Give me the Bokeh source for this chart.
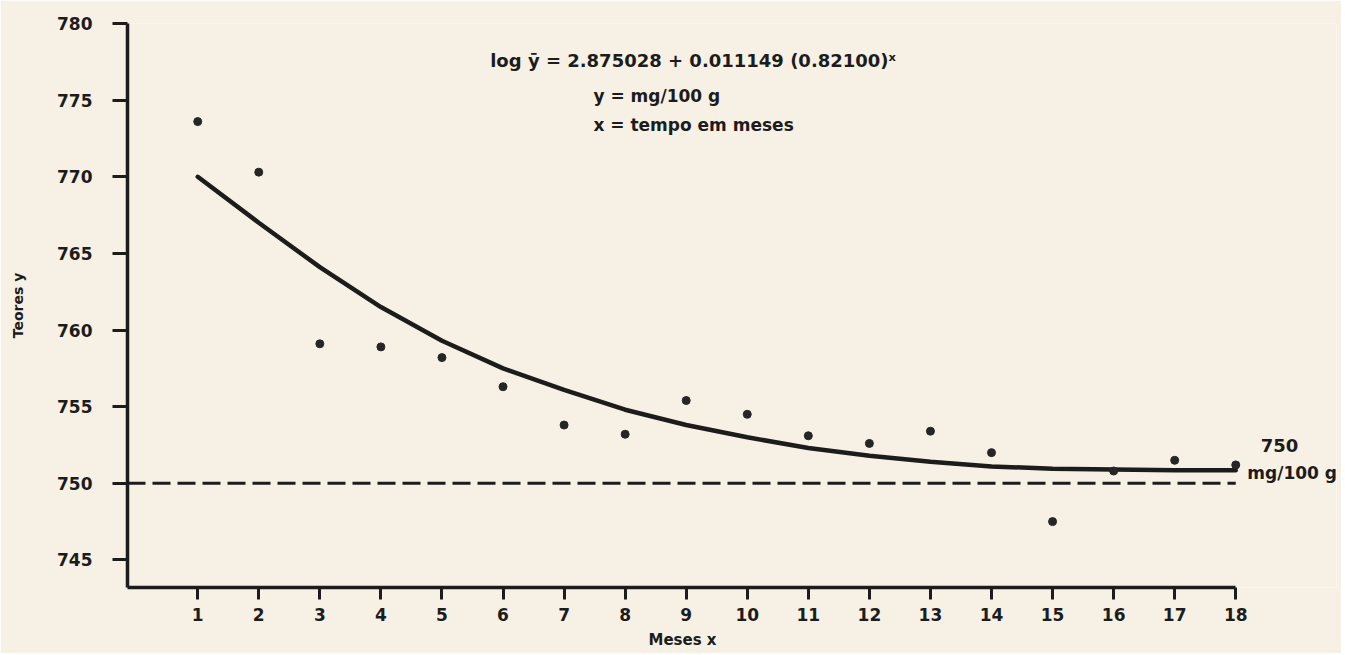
from bokeh.plotting import figure
from bokeh.models import Range1d, Label, FixedTicker, Title
from bokeh.embed import file_html
from bokeh.resources import INLINE

# ---- data ----
months = [1, 2, 3, 4, 5, 6, 7, 8, 9, 10, 11, 12, 13, 14, 15, 16, 17, 18]
teores = [773.6, 770.3, 759.1, 758.9, 758.2, 756.3, 753.8, 753.2, 755.4,
          754.5, 753.1, 752.6, 753.4, 752.0, 747.5, 750.8, 751.5, 751.2]
ajuste = [770.0, 767.0, 764.1, 761.5, 759.3, 757.5, 756.1, 754.8, 753.8,
          753.0, 752.3, 751.8, 751.4, 751.1, 750.95, 750.9, 750.85, 750.85]
limite = 750
y_ticks = [745, 750, 755, 760, 765, 770, 775, 780]
x_ticks = months

X_START, X_END = -0.15, 19.65
Y_START, Y_END = 743.2, 780.0

INK = "#1c1c1c"
PAPER = "#f7f1e5"
FONT = "DejaVu Sans"

p = figure(width=1341, height=653, output_backend="svg", toolbar_location=None,
           x_range=Range1d(X_START, X_END), y_range=Range1d(Y_START, Y_END),
           min_border_left=127, min_border_right=5, min_border_top=23,
           min_border_bottom=66)
p.background_fill_color = PAPER
p.border_fill_color = PAPER
p.outline_line_color = None
p.grid.visible = False

# limit line (750 mg/100 g)
p.line([X_START, months[-1]], [limite, limite], line_color=INK, line_width=3,
       line_dash="18 7")
# fitted curve
p.line(months, ajuste, line_color=INK, line_width=4.5, line_cap="round")
# observations
p.scatter(months, teores, size=8, color="#262626")

# axes
for ax in (p.xaxis[0], p.yaxis[0]):
    ax.axis_line_color = INK
    ax.axis_line_width = 3.5
    ax.major_tick_line_color = INK
    ax.major_tick_line_width = 3
    ax.major_tick_in = 0
    ax.minor_tick_line_color = None
    ax.major_label_text_font = FONT
    ax.major_label_text_font_style = "bold"
    ax.major_label_text_font_size = "17px"
    ax.major_label_text_color = INK
    ax.axis_label_text_font = FONT
    ax.axis_label_text_font_style = "bold"
    ax.axis_label_text_color = INK

xa = p.xaxis[0]
xa.ticker = FixedTicker(ticks=x_ticks)
xa.bounds = (X_START, months[-1])
xa.major_tick_out = 12
xa.major_label_standoff = 8

ya = p.yaxis[0]
ya.ticker = FixedTicker(ticks=y_ticks)
ya.bounds = (Y_START, Y_END)
ya.major_tick_out = 15
ya.major_label_standoff = 20
ya.axis_label = "Teores y"
ya.axis_label_text_font_size = "14px"
ya.axis_label_standoff = 28

# x-axis title, placed under month 9 as in the reference
p.add_layout(Title(text="Meses x", align="left", offset=521, standoff=10,
                   text_font=FONT, text_font_style="bold", text_font_size="15px",
                   text_color=INK), "below")

def note(x, y, text, size="17px", align="left"):
    p.add_layout(Label(x=x, y=y, text=text, text_font=FONT, text_font_style="bold",
                       text_font_size=size, text_color=INK, text_align=align,
                       text_baseline="middle"))

note(5.79, 777.6, "log ȳ = 2.875028 + 0.011149 (0.82100)ˣ", "18px")
note(7.48, 775.3, "y = mg/100 g")
note(7.48, 773.35, "x = tempo em meses")
note(18.41, 752.47, "750", "18px")
note(18.19, 750.7, "mg/100 g", "17px")

open("out.html", "w").write(file_html(p, INLINE))
